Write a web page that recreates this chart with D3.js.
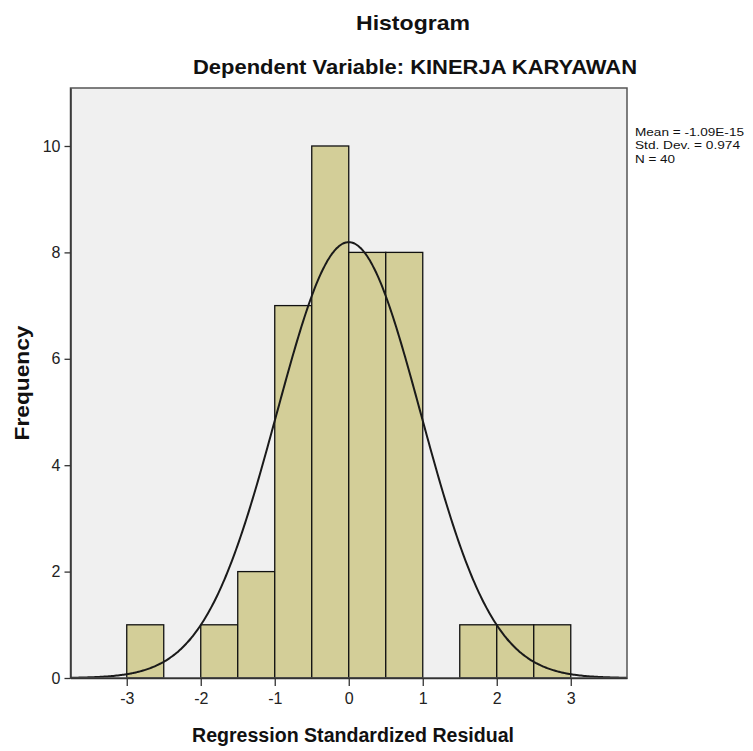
<!DOCTYPE html>
<html><head><meta charset="utf-8">
<script src="https://cdn.jsdelivr.net/npm/d3@7"></script>
<style>body{margin:0;background:#fff}svg{display:block}text{font-family:"Liberation Sans",Arial,sans-serif}</style>
</head><body><svg id="c" width="753" height="751"></svg>
<script>
const binStarts = [-3, -2.5, -2, -1.5, -1, -0.5, 0, 0.5, 1, 1.5, 2, 2.5];
const counts    = [ 1,    0,  1,    2,  7,   10, 8,   8, 0,   1, 1,   1];
const binWidth = 0.5;
const xTicks = [-3, -2, -1, 0, 1, 2, 3];
const yTicks = [0, 2, 4, 6, 8, 10];
const statMean = -1.09e-15, statSD = 0.974, statN = 40;
const legendLines = ["Mean = -1.09E-15", "Std. Dev. = 0.974", "N = 40"];

const svg = d3.select("#c");
const L = 70.5, R = 627, T = 88, B = 678;
const x = d3.scaleLinear().domain([-3.76, 3.76]).range([L, R]);
const y = d3.scaleLinear().domain([0, 11.09]).range([B, T]);

svg.append("rect").attr("x", L).attr("y", T).attr("width", R - L).attr("height", B - T)
  .attr("fill", "#f0f0f0");

// bars
svg.append("g").selectAll("rect").data(binStarts.map((s, i) => ({s, c: counts[i]})).filter(d => d.c > 0))
  .join("rect")
  .attr("x", d => x(d.s)).attr("width", d => x(d.s + binWidth) - x(d.s))
  .attr("y", d => y(d.c)).attr("height", d => y(0) - y(d.c))
  .attr("fill", "#d3ce98").attr("stroke", "#111").attr("stroke-width", 1.3);

// fitted normal curve (from the chart's mean, std. dev. and N)
const pts = d3.range(-3.76, 3.7601, 0.02).map(v => [v,
  statN * binWidth / (statSD * Math.sqrt(2 * Math.PI)) * Math.exp(-0.5 * Math.pow((v - statMean) / statSD, 2))]);
svg.append("path").datum(pts)
  .attr("d", d3.line().x(d => x(d[0])).y(d => y(d[1])).curve(d3.curveBasis))
  .attr("fill", "none").attr("stroke", "#1a1a1a").attr("stroke-width", 2);

// frame
svg.append("rect").attr("x", L).attr("y", T).attr("width", R - L).attr("height", B - T)
  .attr("fill", "none").attr("stroke", "#555").attr("stroke-width", 1.5);

// axes
const yAxis = svg.append("g").attr("transform", `translate(${L},0)`)
  .call(d3.axisLeft(y).tickValues(yTicks).tickSize(6).tickSizeOuter(0).tickFormat(d3.format("d")));
const xAxis = svg.append("g").attr("transform", `translate(0,${B})`)
  .call(d3.axisBottom(x).tickValues(xTicks).tickSize(8).tickSizeOuter(0).tickFormat(d => d < 0 ? "-" + Math.abs(d) : d));
[yAxis, xAxis].forEach(a => {
  a.attr("font-size", null).attr("font-family", null);
  a.select(".domain").attr("stroke", "#333").attr("stroke-width", 1.5);
  a.selectAll(".tick line").attr("stroke", "#333").attr("stroke-width", 1.3);
  a.selectAll(".tick text").attr("fill", "#222").style("font-size", "16px");
});
yAxis.selectAll(".tick text").attr("x", -10);
xAxis.selectAll(".tick text").attr("y", 15);

// titles
svg.append("text").attr("x", 413).attr("y", 30).attr("text-anchor", "middle")
  .style("font-size", "21px").style("font-weight", "bold").attr("fill", "#111")
  .attr("textLength", 114).attr("lengthAdjust", "spacingAndGlyphs").text("Histogram");
svg.append("text").attr("x", 415).attr("y", 74).attr("text-anchor", "middle")
  .style("font-size", "20px").style("font-weight", "bold").attr("fill", "#111")
  .attr("textLength", 444).attr("lengthAdjust", "spacingAndGlyphs")
  .text("Dependent Variable: KINERJA KARYAWAN");
svg.append("text").attr("x", 353).attr("y", 742).attr("text-anchor", "middle")
  .style("font-size", "20px").style("font-weight", "bold").attr("fill", "#111")
  .attr("textLength", 322).attr("lengthAdjust", "spacingAndGlyphs")
  .text("Regression Standardized Residual");
svg.append("text").attr("transform", "translate(29,383) rotate(-90)").attr("text-anchor", "middle")
  .style("font-size", "20px").style("font-weight", "bold").attr("fill", "#111")
  .attr("textLength", 115).attr("lengthAdjust", "spacingAndGlyphs")
  .text("Frequency");

// legend
svg.append("g").selectAll("text").data(legendLines).join("text")
  .attr("x", 635).attr("y", (d, i) => 136 + i * 13.4)
  .style("font-size", "11.5px").attr("fill", "#111")
  .attr("textLength", (d, i) => [109, 105, 40][i]).attr("lengthAdjust", "spacingAndGlyphs")
  .text(d => d);
</script></body></html>
